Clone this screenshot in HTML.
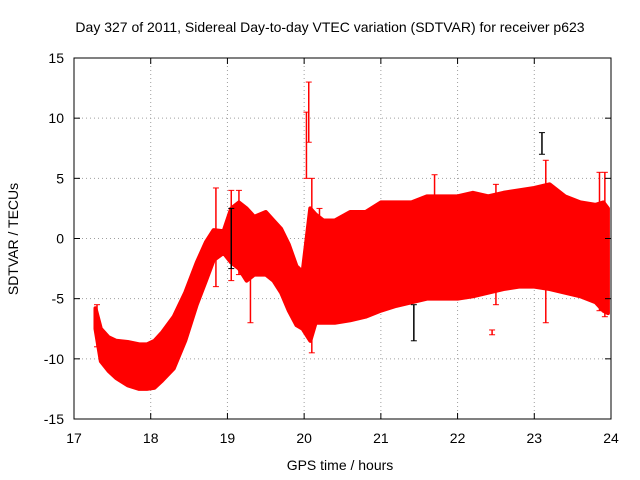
<!DOCTYPE html>
<html><head><meta charset="utf-8"><style>
body{margin:0;background:#fff;}
svg{display:block;font-family:"Liberation Sans",sans-serif;}
</style></head><body>
<svg id="c" width="640" height="480">
<rect x="0" y="0" width="640" height="480" fill="#fff"/>
<text x="330" y="32" font-size="14" text-anchor="middle">Day 327 of 2011, Sidereal Day-to-day VTEC variation (SDTVAR) for receiver p623</text>
<text x="340" y="470" font-size="14" text-anchor="middle">GPS time / hours</text>
<text transform="translate(18,239) rotate(-90)" font-size="14" text-anchor="middle">SDTVAR / TECUs</text>
<g id="grid"></g><g id="data"></g><g id="axes"></g>
</svg>
<script>
const xTicks=[17,18,19,20,21,22,23,24];
const yTicks=[-15,-10,-5,0,5,10,15];
const times=[17.28,17.35,17.45,17.55,17.7,17.85,17.95,18.05,18.15,18.3,18.45,18.6,18.72,18.82,18.95,19.05,19.15,19.25,19.35,19.5,19.6,19.7,19.8,19.9,19.98,20.08,20.15,20.25,20.4,20.6,20.8,21.0,21.2,21.4,21.6,21.8,22.0,22.2,22.4,22.6,22.8,23.0,23.2,23.4,23.6,23.8,23.9,23.96];
const highs=[-5.8,-7.5,-8.2,-8.5,-8.6,-8.8,-8.8,-8.5,-7.8,-6.5,-4.5,-2,-0.3,0.7,0.6,2.5,3,2.5,1.8,2.2,1.5,0.8,-0.5,-2.3,-2.8,2.5,2,1.5,1.5,2.2,2.2,3,3,3,3.5,3.5,3.5,3.8,3.5,3.8,4,4.2,4.5,3.5,3,2.8,3,2.5];
const lows=[-7.5,-10.2,-11,-11.6,-12.2,-12.5,-12.5,-12.4,-11.8,-10.8,-8.5,-5.5,-3.5,-1.8,-1.2,-2,-2.5,-3.5,-3,-3,-3.5,-4.5,-6,-7.2,-7.5,-8.5,-7,-7,-7,-6.8,-6.5,-6,-5.6,-5.3,-5,-5,-5,-4.8,-4.5,-4.2,-4,-4,-4.2,-4.5,-4.8,-5.3,-6,-6.2];
const spikeT=[17.3,18.85,19.05,19.15,19.3,20.03,20.06,20.1,20.2,21.7,22.45,22.5,23.15,23.85,23.92];
const spikeLo=[-9,-4,-3.5,-3,-7,5,8,-9.5,-7,-5,-8,-5.5,-7,-6,-6.5];
const spikeHi=[-5.5,4.2,4,4,0,10.5,13,5,2.5,5.3,-7.6,4.5,6.5,5.5,5.5];
const blackT=[19.05,21.43,23.1];
const blackLo=[-2.5,-8.5,7];
const blackHi=[2.5,-5.5,8.8];
const X0=74,X1=611,Y0=419,Y1=58;
const sx=t=>X0+(t-17)/7*(X1-X0);
const sy=v=>Y0-(v+15)/30*(Y0-Y1);
const NS='http://www.w3.org/2000/svg';
function mk(tag,a,p){const e=document.createElementNS(NS,tag);for(const k in a)e.setAttribute(k,a[k]);p.appendChild(e);return e;}
const grid=document.getElementById('grid'),axes=document.getElementById('axes'),data=document.getElementById('data');
xTicks.forEach(t=>{const x=sx(t);
 if(t>17&&t<24){const g=mk('line',{x1:x,x2:x,y1:Y1,y2:Y0,stroke:'#a0a0a0','stroke-dasharray':'1,3'},grid);
 
 }
 const l=mk('text',{x:x,y:Y0+24,'font-size':14,'text-anchor':'middle'},axes);l.textContent=t;
 
 
 mk('line',{x1:x,x2:x,y1:Y0,y2:Y0-6,stroke:'#000'},axes);mk('line',{x1:x,x2:x,y1:Y1,y2:Y1+6,stroke:'#000'},axes);});
yTicks.forEach(v=>{const y=sy(v);
 if(v>-15&&v<15){const g=mk('line',{x1:X0,x2:X1,y1:y,y2:y,stroke:'#a0a0a0','stroke-dasharray':'1,3'},grid);
 
 }
 const l=mk('text',{x:X0-10,y:y+5,'font-size':14,'text-anchor':'end'},axes);l.textContent=v;
 
 
 mk('line',{x1:X0,x2:X0+6,y1:y,y2:y,stroke:'#000'},axes);mk('line',{x1:X1,x2:X1-6,y1:y,y2:y,stroke:'#000'},axes);});
const fr=mk('rect',{x:X0,y:Y1,width:X1-X0,height:Y0-Y1,fill:'none',stroke:'#000'},axes);


let pts=times.map((t,i)=>sx(t)+','+sy(highs[i]));
for(let i=times.length-1;i>=0;i--)pts.push(sx(times[i])+','+sy(lows[i]));
const band=mk('polygon',{points:pts.join(' '),fill:'#ff0000',stroke:'#ff0000','stroke-width':4,'stroke-linejoin':'round'},data);


function bar(t,lo,hi,col,name){const x=sx(t);
 const b=mk('line',{x1:x,x2:x,y1:sy(lo),y2:sy(hi),stroke:col,'stroke-width':1.5},data);
 
 
 mk('line',{x1:x-3,x2:x+3,y1:sy(lo),y2:sy(lo),stroke:col},data);
 mk('line',{x1:x-3,x2:x+3,y1:sy(hi),y2:sy(hi),stroke:col},data);}
spikeT.forEach((t,i)=>bar(t,spikeLo[i],spikeHi[i],'#ff0000','error-bar-spike'));
blackT.forEach((t,i)=>bar(t,blackLo[i],blackHi[i],'#000','error-bar-black'));
</script>
</body></html>
